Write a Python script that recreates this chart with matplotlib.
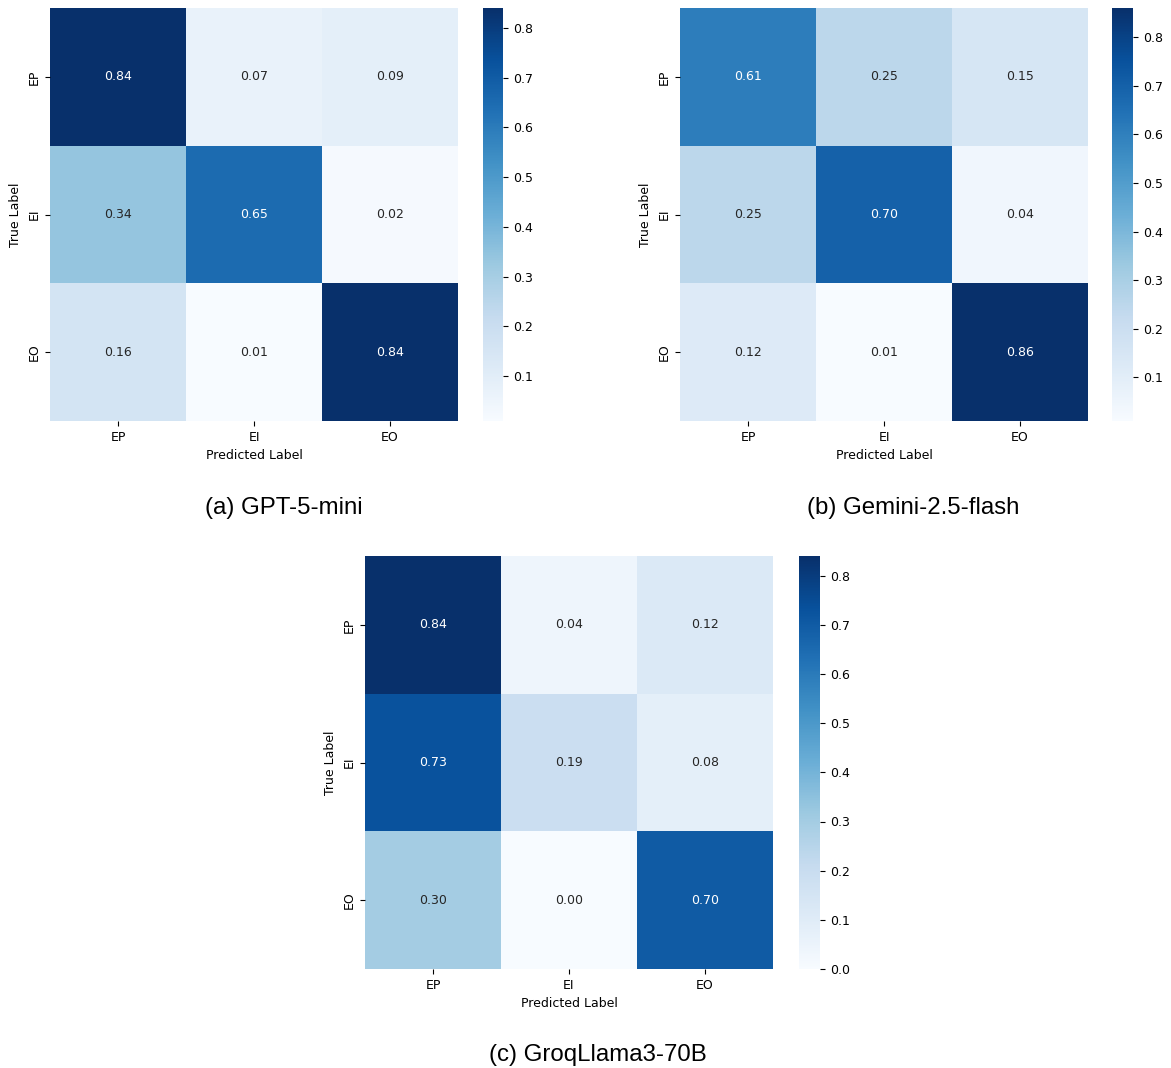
import numpy as np
import matplotlib
matplotlib.use("Agg")
import matplotlib.pyplot as plt
import seaborn as sns

# row-normalised confusion matrices, rows = true label, cols = predicted label
labels = ["EP", "EI", "EO"]
gpt5_mini = [[0.84, 0.07, 0.09],
             [0.34, 0.65, 0.02],
             [0.16, 0.01, 0.84]]
gemini_flash = [[0.61, 0.25, 0.15],
                [0.25, 0.70, 0.04],
                [0.12, 0.01, 0.86]]
groq_llama = [[0.84, 0.04, 0.12],
              [0.73, 0.19, 0.08],
              [0.30, 0.00, 0.70]]
captions = ["(a) GPT-5-mini", "(b) Gemini-2.5-flash", "(c) GroqLlama3-70B"]

W, H = 1171, 1068


def px_axes(fig, x0, y0, x1, y1):
    """add axes from pixel box (top-left origin)"""
    return fig.add_axes([x0 / W, 1 - y1 / H, (x1 - x0) / W, (y1 - y0) / H])


def draw_cm(fig, cm, box, cbox, caption, cap_xy):
    ax = px_axes(fig, *box)
    cax = px_axes(fig, *cbox)
    sns.heatmap(np.array(cm), annot=True, fmt=".2f", cmap="Blues",
                xticklabels=labels, yticklabels=labels,
                ax=ax, cbar_ax=cax, annot_kws={"fontsize": 9})
    ax.set_xlabel("Predicted Label", fontsize=9)
    ax.set_ylabel("True Label", fontsize=9)
    ax.tick_params(labelsize=9)
    cax.tick_params(labelsize=9)
    fig.text(cap_xy[0] / W, 1 - cap_xy[1] / H, caption, ha="center", va="center",
             fontsize=17.3, family="Liberation Sans")


fig = plt.figure(figsize=(W / 100, H / 100), dpi=100)

draw_cm(fig, gpt5_mini, (50, 8, 458, 421), (483, 8, 503, 421), captions[0], (284, 508))
draw_cm(fig, gemini_flash, (680, 8, 1088, 421), (1112, 8, 1133, 421), captions[1], (913, 508))
draw_cm(fig, groq_llama, (365, 556, 773, 969), (799, 556, 820, 969), captions[2], (598, 1055))

fig.savefig("out.png", dpi=100)
